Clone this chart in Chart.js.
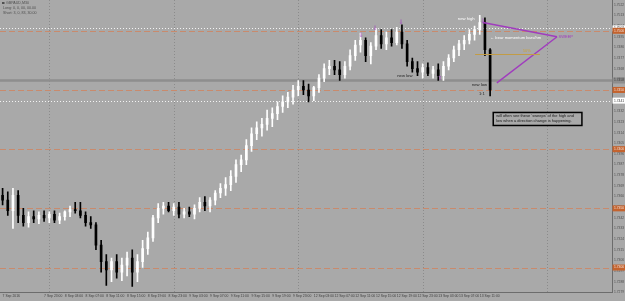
<!DOCTYPE html>
<html>
<head>
<meta charset="utf-8">
<script src="https://cdn.jsdelivr.net/npm/chart.js@4.4.0/dist/chart.umd.min.js"></script>
<style>
  html, body { margin: 0; padding: 0; background: #a9a9a9; }
  #wrap { width: 625px; height: 301px; }
</style>
</head>
<body>
<div id="wrap"><canvas id="chart"></canvas></div>
<script>
// --- GBPAUD H1 candles ---
const opens = [1.7361,1.7357,1.7348,1.7361,1.7344,1.7338,1.7343,1.7341,1.7344,1.7342,
  1.7345,1.7340,1.7343,1.7347,1.7349,1.7348,1.7344,1.7338,1.7336,1.7319,
  1.7305,1.7298,1.7305,1.7296,1.7302,1.7308,1.7296,1.7305,1.7316,1.7325,
  1.7342,1.7350,1.7352,1.7348,1.7351,1.7345,1.7347,1.7345,1.7350,1.7355,
  1.7352,1.7357,1.7363,1.7367,1.7370,1.7377,1.7387,1.7391,1.7403,1.7413,
  1.7418,1.7421,1.7426,1.7430,1.7436,1.7440,1.7444,1.7450,1.7453,1.7450,
  1.7445,1.7452,1.7460,1.7468,1.7470,1.7467,1.7463,1.7470,1.7479,1.7488,
  1.7492,1.7479,1.7487,1.7496,1.7489,1.7494,1.7490,1.7499,1.7489,1.7474,
  1.7468,1.7465,1.7469,1.7464,1.7467,1.7462,1.7470,1.7477,1.7484,1.7489,
  1.7492,1.7497,1.7501,1.7507,1.7484];
const highs = [1.7367,1.7364,1.7367,1.7365,1.7350,1.7347,1.7348,1.7347,1.7348,1.7347,
  1.7348,1.7346,1.7348,1.7352,1.7355,1.7355,1.7347,1.7343,1.7338,1.7323,
  1.7311,1.7308,1.7311,1.7308,1.7313,1.7315,1.7311,1.7323,1.7330,1.7344,
  1.7354,1.7355,1.7355,1.7354,1.7355,1.7350,1.7351,1.7353,1.7359,1.7360,
  1.7359,1.7365,1.7371,1.7376,1.7382,1.7391,1.7395,1.7408,1.7418,1.7423,
  1.7426,1.7433,1.7435,1.7440,1.7445,1.7448,1.7454,1.7458,1.7458,1.7455,
  1.7453,1.7463,1.7472,1.7475,1.7475,1.7474,1.7474,1.7484,1.7492,1.7498,
  1.7494,1.7490,1.7502,1.7501,1.7499,1.7501,1.7503,1.7505,1.7492,1.7477,
  1.7474,1.7472,1.7473,1.7470,1.7472,1.7474,1.7480,1.7487,1.7492,1.7496,
  1.7501,1.7504,1.7513,1.7511,1.7485];
const lows = [1.7353,1.7344,1.7333,1.7338,1.7335,1.7334,1.7338,1.7337,1.7339,1.7338,
  1.7338,1.7337,1.7340,1.7343,1.7346,1.7342,1.7335,1.7333,1.7315,1.7296,
  1.7285,1.7288,1.7291,1.7289,1.7293,1.7284,1.7288,1.7300,1.7311,1.7322,
  1.7338,1.7345,1.7347,1.7344,1.7342,1.7342,1.7343,1.7341,1.7347,1.7348,
  1.7347,1.7353,1.7359,1.7361,1.7365,1.7372,1.7381,1.7387,1.7398,1.7408,
  1.7411,1.7416,1.7419,1.7425,1.7431,1.7435,1.7438,1.7445,1.7446,1.7440,
  1.7441,1.7448,1.7457,1.7463,1.7463,1.7458,1.7460,1.7467,1.7475,1.7482,
  1.7474,1.7472,1.7484,1.7485,1.7484,1.7487,1.7488,1.7485,1.7470,1.7465,
  1.7462,1.7460,1.7462,1.7460,1.7458,1.7458,1.7467,1.7474,1.7479,1.7484,
  1.7489,1.7492,1.7497,1.7479,1.7445];
const closes = [1.7357,1.7348,1.7361,1.7344,1.7338,1.7343,1.7341,1.7344,1.7342,1.7345,
  1.7340,1.7343,1.7347,1.7349,1.7348,1.7344,1.7338,1.7336,1.7319,1.7305,
  1.7298,1.7305,1.7296,1.7302,1.7308,1.7296,1.7305,1.7316,1.7325,1.7342,
  1.7350,1.7352,1.7348,1.7351,1.7345,1.7347,1.7345,1.7350,1.7355,1.7352,
  1.7357,1.7363,1.7367,1.7370,1.7377,1.7387,1.7391,1.7403,1.7413,1.7418,
  1.7421,1.7426,1.7430,1.7436,1.7440,1.7444,1.7450,1.7453,1.7450,1.7445,
  1.7452,1.7460,1.7468,1.7470,1.7467,1.7463,1.7470,1.7479,1.7488,1.7492,
  1.7479,1.7487,1.7496,1.7489,1.7494,1.7490,1.7499,1.7489,1.7474,1.7468,
  1.7465,1.7469,1.7464,1.7467,1.7462,1.7470,1.7477,1.7484,1.7489,1.7492,
  1.7497,1.7501,1.7507,1.7484,1.7450];

// 95 bars drawn + empty chart shift on the right
const barCount = 118;
const barIndex = Array.from({ length: barCount }, (_, i) => i);

// one label every 4 bars
const xTickLabels = ['7 Sep 2016', '', '7 Sep 23:00', '8 Sep 03:00', '8 Sep 07:00', '8 Sep 11:00',
  '8 Sep 15:00', '8 Sep 19:00', '8 Sep 23:00', '9 Sep 03:00', '9 Sep 07:00', '9 Sep 11:00',
  '9 Sep 15:00', '9 Sep 19:00', '9 Sep 23:00', '12 Sep 03:00', '12 Sep 07:00', '12 Sep 11:00',
  '12 Sep 15:00', '12 Sep 19:00', '12 Sep 23:00', '13 Sep 03:00', '13 Sep 07:00', '13 Sep 11:00'];

const yTicks = [1.7279, 1.7288, 1.7297, 1.7306, 1.7315, 1.7324, 1.7333, 1.7342, 1.7351, 1.7360,
  1.7369, 1.7378, 1.7387, 1.7396, 1.7405, 1.7414, 1.7423, 1.7432, 1.7441, 1.7450,
  1.7459, 1.7468, 1.7477, 1.7486, 1.7495, 1.7504, 1.7513, 1.7522];
const yMin = 1.7279;
const yMax = 1.7526;

// horizontal levels drawn on the chart
const roundLevels = [1.7500, 1.7450, 1.7400, 1.7350, 1.7300];
const dottedLevels = [1.7502, 1.7441];
const greyLevel = 1.7458;
const gridBars = [9, 33, 57, 81, 105];

const bgColor = '#a9a9a9';
const bull = '#ffffff';
const bear = '#000000';
const purple = '#a03cbe';

const candleColors = closes.map((c, i) => (c >= opens[i] ? bull : bear));

// --- drawn objects (bar index / price) ---
const arrowsDown = [[69.1, 1.7496], [71.8, 1.7502], [76.8, 1.7507], [92.6, 1.7508]];
const arrowsUp = [[84.3, 1.7460]];
const sweepLines = [[[92.6, 1.7507], [106.9, 1.7495]], [[95.3, 1.7456], [106.9, 1.7495]]];
const fiftyLine = [[91.1, 1.7480], [103.6, 1.7480]];
const notes = [
  { text: 'new high', i: 91.0, p: 1.7510, color: '#ffffff', align: 'right', size: 4.2 },
  { text: '\u2190 bear momentum bars/hm', i: 94.0, p: 1.7494, color: '#ffffff', align: 'left', size: 4.1 },
  { text: 'SWEEP', i: 107.2, p: 1.7495, color: purple, align: 'left', size: 4 },
  { text: '50%', i: 100.3, p: 1.7483, color: '#c9a23a', align: 'left', size: 4 },
  { text: 'new low', i: 76.1, p: 1.7462, color: '#222222', align: 'left', size: 4.2 },
  { text: 'new low', i: 90.5, p: 1.7454, color: '#222222', align: 'left', size: 4.2 },
  { text: '1:1', i: 92.4, p: 1.7447, color: '#222222', align: 'center', size: 4 }
];
const boxText = ["will often see these 'sweeps' of the high and", 'low when a direction change is happening.'];
const boxArea = { i0: 94.6, i1: 111.7, p0: 1.7431, p1: 1.7420 };
const headerText = ['GBPAUD,M30', 'Long: 0, 0, 00, 00.00', 'Short: 3, 0, 83, 30.00'];

const font = 'Liberation Sans, Arial, sans-serif';

const mtPlugin = {
    id: 'mtChart',
    beforeDraw(chart) {
        const { ctx, width, height } = chart;
        ctx.save();
        ctx.fillStyle = bgColor;
        ctx.fillRect(0, 0, width, height);
        ctx.restore();
    },
    beforeDatasetsDraw(chart) {
        const { ctx, chartArea: a, scales: { x, y } } = chart;
        ctx.save();
        const hline = (py) => { ctx.beginPath(); ctx.moveTo(a.left, py); ctx.lineTo(a.right, py); ctx.stroke(); };

        // vertical dotted grid
        ctx.strokeStyle = '#8b8b8b';
        ctx.lineWidth = 1;
        ctx.setLineDash([1, 2]);
        gridBars.forEach(b => {
            const px = Math.round(x.getPixelForValue(b)) + 0.5;
            ctx.beginPath(); ctx.moveTo(px, a.top); ctx.lineTo(px, a.bottom); ctx.stroke();
        });

        // grey level
        ctx.setLineDash([]);
        ctx.strokeStyle = '#8e8e8e';
        ctx.lineWidth = 2.5;
        hline(y.getPixelForValue(greyLevel));

        // round number levels
        ctx.strokeStyle = '#c98a6c';
        ctx.lineWidth = 1;
        ctx.setLineDash([6, 3]);
        roundLevels.forEach(v => hline(Math.round(y.getPixelForValue(v)) + 0.5));

        // white dotted levels
        ctx.strokeStyle = '#f4f4f4';
        ctx.setLineDash([1, 2]);
        dottedLevels.forEach(v => hline(Math.round(y.getPixelForValue(v)) + 0.5));
        ctx.restore();
    },
    afterDatasetsDraw(chart) {
        const { ctx, scales: { x, y } } = chart;
        const px = (i) => x.getPixelForValue(i);
        const py = (p) => y.getPixelForValue(p);
        ctx.save();

        // sweep lines
        ctx.strokeStyle = purple;
        ctx.lineWidth = 1.4;
        sweepLines.forEach(([s, e]) => {
            ctx.beginPath(); ctx.moveTo(px(s[0]), py(s[1])); ctx.lineTo(px(e[0]), py(e[1])); ctx.stroke();
        });

        // 50% line
        ctx.strokeStyle = '#c29c45';
        ctx.lineWidth = 1;
        ctx.beginPath();
        ctx.moveTo(px(fiftyLine[0][0]), Math.round(py(fiftyLine[0][1])) + 0.5);
        ctx.lineTo(px(fiftyLine[1][0]), Math.round(py(fiftyLine[1][1])) + 0.5);
        ctx.stroke();

        // swing arrows
        ctx.fillStyle = purple;
        ctx.font = '6px DejaVu Sans';
        ctx.textAlign = 'center';
        ctx.textBaseline = 'middle';
        arrowsDown.forEach(([i, p]) => ctx.fillText('\u21e9', px(i), py(p)));
        arrowsUp.forEach(([i, p]) => ctx.fillText('\u21e7', px(i), py(p)));

        // labels
        notes.forEach(n => {
            ctx.fillStyle = n.color;
            ctx.font = `${n.size}px ${font}`;
            ctx.textAlign = n.align;
            ctx.fillText(n.text, px(n.i), py(n.p));
        });

        // comment box
        const bx0 = px(boxArea.i0), bx1 = px(boxArea.i1);
        const by0 = py(boxArea.p0), by1 = py(boxArea.p1);
        ctx.fillStyle = bgColor;
        ctx.fillRect(bx0, by0, bx1 - bx0, by1 - by0);
        ctx.strokeStyle = '#000000';
        ctx.lineWidth = 1.5;
        ctx.strokeRect(bx0, by0, bx1 - bx0, by1 - by0);
        ctx.fillStyle = '#1a1a1a';
        ctx.font = `4px ${font}`;
        ctx.textAlign = 'left';
        boxText.forEach((t, k) => ctx.fillText(t, bx0 + 3, by0 + 3.5 + k * 5, bx1 - bx0 - 5));

        // header
        ctx.fillStyle = '#4f4f4f';
        ctx.font = `3.6px ${font}`;
        headerText.forEach((t, k) => ctx.fillText(t, k === 0 ? 6 : 3, 3 + k * 5));
        ctx.fillRect(2, 2, 2.5, 2);
        ctx.restore();
    },
    afterDraw(chart) {
        const { ctx, chartArea: a, width, scales: { y } } = chart;
        ctx.save();
        ctx.font = `3.3px ${font}`;
        ctx.textBaseline = 'middle';
        ctx.textAlign = 'left';
        const tag = (v, fill, text) => {
            const yy = y.getPixelForValue(v);
            ctx.fillStyle = fill;
            ctx.fillRect(a.right + 0.5, yy - 3, width - a.right, 6);
            ctx.fillStyle = text;
            ctx.fillText(v.toFixed(4), a.right + 2, yy);
        };
        tag(greyLevel, '#8e8e8e', '#3a3a3a');
        dottedLevels.forEach(v => tag(v, '#ffffff', '#3a3a3a'));
        roundLevels.forEach(v => tag(v, '#c4632e', '#f3e3da'));
        ctx.restore();
    }
};

new Chart(document.getElementById('chart'), {
    type: 'bar',
    data: {
        labels: barIndex,
        datasets: [
            {
                // wicks
                data: lows.map((l, i) => [l, highs[i]]),
                backgroundColor: candleColors,
                barThickness: 1,
                grouped: false,
                order: 2
            },
            {
                // bodies
                data: opens.map((o, i) => [o, closes[i]]),
                backgroundColor: candleColors,
                barThickness: 2,
                minBarLength: 1,
                grouped: false,
                order: 1
            }
        ]
    },
    options: {
        responsive: true,
        maintainAspectRatio: false,
        animation: false,
        devicePixelRatio: 1,
        events: [],
        layout: { padding: 0 },
        plugins: { legend: { display: false }, tooltip: { enabled: false } },
        scales: {
            x: {
                type: 'category',
                offset: true,
                grid: { display: false, drawTicks: false, tickLength: 0 },
                border: { display: true, color: '#6c6c6c' },
                ticks: {
                    autoSkip: false,
                    maxRotation: 0,
                    minRotation: 0,
                    align: 'start',
                    padding: 2,
                    color: '#404040',
                    font: { size: 3.4, family: font },
                    callback: (v, i) => (i % 4 === 0 && xTickLabels[i / 4] ? xTickLabels[i / 4] : null)
                },
                afterFit: (s) => { s.height = 8.6; s.paddingLeft = 0; s.paddingRight = 0; }
            },
            y: {
                type: 'linear',
                position: 'right',
                min: yMin,
                max: yMax,
                grid: { drawOnChartArea: false, tickLength: 1, color: '#5a5a5a' },
                border: { display: true, color: '#6c6c6c' },
                afterBuildTicks: (s) => { s.ticks = yTicks.map(v => ({ value: v })); },
                ticks: {
                    padding: 1,
                    color: '#4f4f4f',
                    font: { size: 3.3, family: font },
                    callback: (v) => Number(v).toFixed(4)
                },
                afterFit: (s) => { s.width = 13; s.paddingTop = 0; s.paddingBottom = 0; }
            }
        }
    },
    plugins: [mtPlugin]
});
</script>
</body>
</html>
